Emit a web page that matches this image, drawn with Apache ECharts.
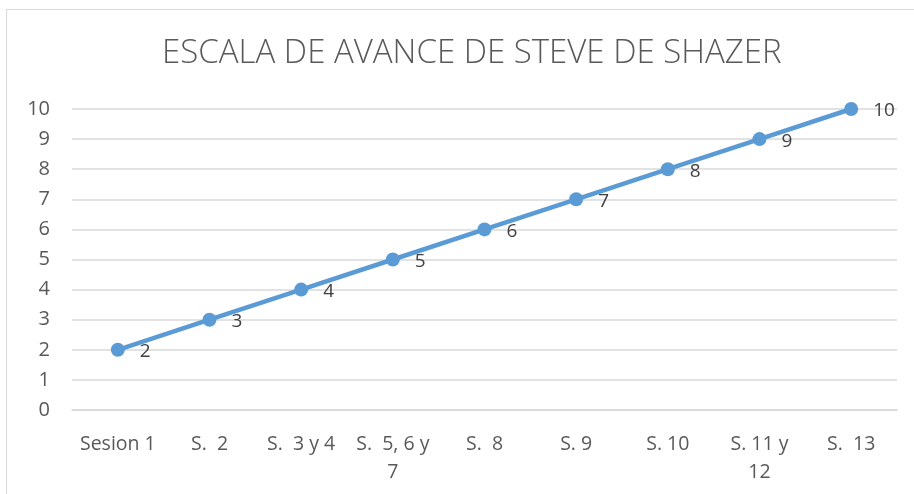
<!DOCTYPE html>
<html>
<head>
<meta charset="utf-8">
<script src="https://cdn.jsdelivr.net/npm/echarts@6/dist/echarts.min.js"></script>
<style>
  html, body { margin: 0; padding: 0; background: #fff; }
  #frame { position: absolute; left: 6px; top: 9px; width: 920px; height: 500px; border: 1.5px solid #d9d9d9; box-sizing: border-box; }
  #chart { position: absolute; left: 0; top: 0; width: 914px; height: 494px; }
</style>
</head>
<body>
<div id="frame"></div>
<div id="chart"></div>
<script>
// datos de la escala
const categorias = ['Sesion 1', 'S.  2', 'S.  3 y 4', 'S.  5, 6 y\n7', 'S.  8', 'S. 9', 'S. 10', 'S. 11 y\n12', 'S.  13'];
const avance = [2, 3, 4, 5, 6, 7, 8, 9, 10];
const titulo = 'ESCALA DE AVANCE DE STEVE DE SHAZER';

let myChart = echarts.init(document.getElementById('chart'));
let option = {
  animation: false,
  title: {
    text: titulo,
    left: 157,
    top: 32,
    textStyle: {
      fontFamily: 'Open Sans',
      fontWeight: 300,
      fontSize: 33,
      color: '#595959'
    }
  },
  grid: {
    left: 72,
    right: 17,
    top: 109,
    bottom: 84
  },
  xAxis: {
    type: 'category',
    data: categorias,
    boundaryGap: true,
    axisLine: { show: true, lineStyle: { color: '#d9d9d9', width: 1.5 } },
    axisTick: { show: false },
    axisLabel: {
      color: '#595959',
      fontFamily: 'Open Sans',
      fontSize: 19.5,
      margin: 20,
      lineHeight: 28,
      interval: 0
    }
  },
  yAxis: {
    type: 'value',
    min: 0,
    max: 10,
    interval: 1,
    axisLine: { show: false },
    axisTick: { show: false },
    splitLine: { lineStyle: { color: '#d9d9d9', width: 1.5 } },
    axisLabel: {
      color: '#595959',
      fontFamily: 'Open Sans',
      fontSize: 20,
      margin: 22
    }
  },
  series: [
    {
      type: 'line',
      data: avance,
      symbol: 'circle',
      symbolSize: 14,
      lineStyle: { color: '#5b9bd5', width: 4.5 },
      itemStyle: { color: '#5b9bd5' },
      label: {
        show: true,
        position: 'right',
        distance: 15,
        offset: [0, 2],
        color: '#404040',
        fontFamily: 'Open Sans',
        fontSize: 19
      }
    }
  ]
};
myChart.setOption(option);
</script>
</body>
</html>
